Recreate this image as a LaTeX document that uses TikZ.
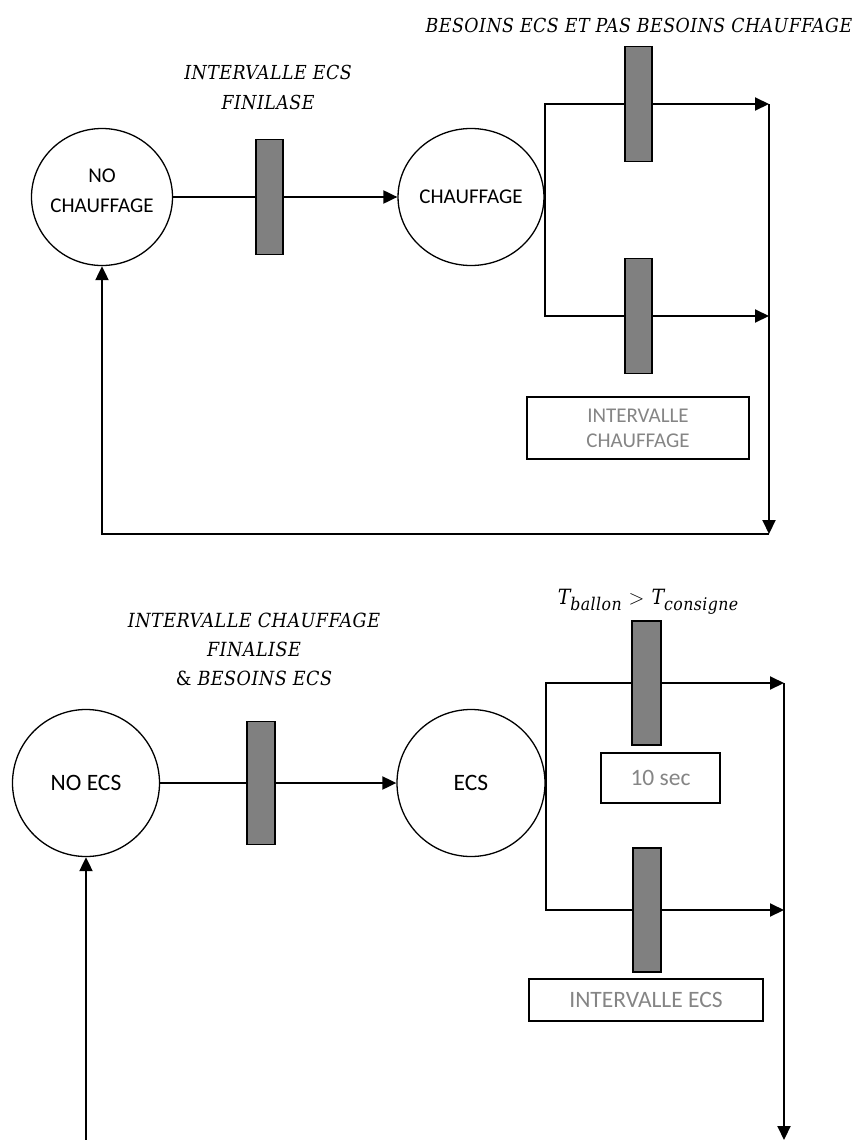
\documentclass[tikz,border=0pt]{standalone}
\usepackage{fontspec}
\usepackage{graphicx}
\newfontfamily\calibri{Carlito}
\newfontfamily\lblfont[LetterSpace=2.5]{DejaVu Serif Condensed}
\usetikzlibrary{shapes.geometric,arrows.meta}
\definecolor{bargray}{HTML}{808080}
\definecolor{txtgray}{HTML}{858585}
\tikzset{
  place/.style={ellipse, draw, line width=1.3pt, inner sep=0pt, align=center},
  topfont/.style={font=\calibri\fontsize{21}{30}\selectfont},
  botfont/.style={font=\calibri\fontsize{23.5}{28}\selectfont},
  trans/.style={rectangle, draw, fill=bargray, line width=1.3pt, minimum width=27pt, inner sep=0pt},
  gbox/.style={rectangle, draw, line width=1.7pt, inner sep=0pt, text=txtgray, align=center},
  flow/.style={line width=2pt},
  arr/.style={-{Triangle[length=14pt,width=13pt]}},
  lbl/.style={font=\lblfont\itshape\fontsize{19.3}{30}\selectfont, align=center, inner sep=0pt},
}
\newcommand{\subtxt}[1]{\raisebox{-5.5pt}{\fontsize{17.5}{18}\selectfont #1}}
\begin{document}
\begin{tikzpicture}[x=1pt,y=-1pt]
\useasboundingbox (0,0) rectangle (853,1140);
% ---------- top net ----------
\node[place, minimum width=141pt, minimum height=137pt, topfont,
      label={[topfont, align=center, yshift=6pt]center:NO\\CHAUFFAGE}] (c1) at (102,197) {};
\node[trans, minimum height=115pt] (t1) at (269.5,197) {};
\node[place, minimum width=142pt, minimum height=137pt, topfont] (c2) at (471,197) {CHAUFFAGE};
\node[trans, minimum height=115pt] (t2) at (638.5,104) {};
\node[trans, minimum height=115pt] (t3) at (638.5,316) {};
\node[gbox, minimum width=222pt, minimum height=62pt, font=\calibri\fontsize{21}{25}\selectfont] (b1) at (638,428) {INTERVALLE\\CHAUFFAGE};
\coordinate (j1) at (769,104);
\coordinate (j2) at (769,316);
\coordinate (j3) at (769,534);

\node[lbl] (l1) at (268,87) {INTERVALLE ECS\\FINILASE};
\node[lbl] (l2) at (639,25) {BESOINS ECS ET PAS BESOINS CHAUFFAGE};

\draw[flow] (c1.east) -- (t1.west);
\draw[flow,arr] (t1.east) -- (c2.west);
\draw[flow] (c2.east) |- (t2.west);
\draw[flow,arr] (t2.east) -- (j1);
\draw[flow] (c2.east) |- (t3.west);
\draw[flow,arr] (t3.east) -- (j2);
\draw[flow,arr] (j1) -- (j3);
\draw[flow,arr] (j3) -| (c1.south);

% ---------- bottom net ----------
\node[place, minimum width=147pt, minimum height=147pt, botfont] (c3) at (86,783) {NO ECS};
\node[trans, minimum width=28pt, minimum height=123pt] (t4) at (261,783) {};
\node[place, minimum width=148pt, minimum height=147pt, botfont] (c4) at (471,783) {ECS};
\node[trans, minimum width=29pt, minimum height=124pt] (t5) at (646.5,683) {};
\node[trans, minimum width=28pt, minimum height=124pt] (t6) at (647,910) {};
\node[gbox, minimum width=119pt, minimum height=50pt, botfont, text=txtgray] (b2) at (660.5,778) {10 sec};
\node[gbox, minimum width=234pt, minimum height=42pt, botfont, text=txtgray] (b3) at (646,1000) {INTERVALLE ECS};
\coordinate (j4) at (784,683);
\coordinate (j5) at (784,910);
\coordinate (j6) at (784,1140);
\coordinate (j7) at (86,1140);

\node[lbl, font=\lblfont\itshape\fontsize{19.5}{29}\selectfont] (l3) at (254,649) {INTERVALLE CHAUFFAGE\\FINALISE\\{\upshape\&} BESOINS ECS};
\node[lbl, font=\lblfont\itshape\fontsize{21}{24}\selectfont] (l4) at (648,602)
  {T\subtxt{ballon}\,\,$>$\,\,T\subtxt{consigne}};

\draw[flow] (c3.east) -- (t4.west);
\draw[flow,arr] (t4.east) -- (c4.west);
\draw[flow] (c4.east) |- (t5.west);
\draw[flow,arr] (t5.east) -- (j4);
\draw[flow] (c4.east) |- (t6.west);
\draw[flow,arr] (t6.east) -- (j5);
\draw[flow,arr] (j4) -- (j6);
\draw[flow,arr] (j7) -- (c3.south);
\end{tikzpicture}
\end{document}
